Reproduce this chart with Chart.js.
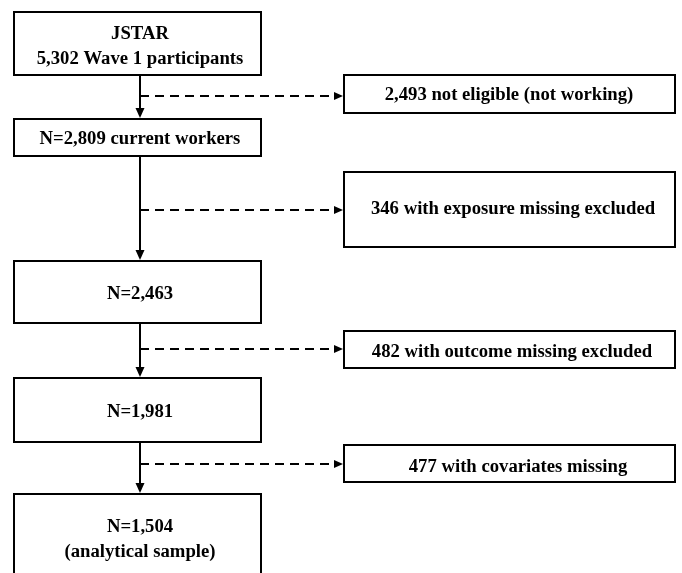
<!DOCTYPE html>
<html>
<head>
<meta charset="utf-8">
<script src="https://cdn.jsdelivr.net/npm/chart.js@4"></script>
<style>
  body { margin: 0; background: #fff; }
  #wrap { width: 682px; height: 573px; }
</style>
</head>
<body>
<div id="wrap"><canvas id="chart"></canvas></div>
<script>
// flow data
const stepNames = ['JSTAR', 'current workers', '', '', 'analytical sample'];
const stepCounts = [5302, 2809, 2463, 1981, 1504];
const excludedCounts = [2493, 346, 482, 477];
const excludedReasons = [
    'not eligible (not working)',
    'with exposure missing excluded',
    'with outcome missing excluded',
    'with covariates missing'
];

const fmt = n => n.toLocaleString('en-US');

function stepLines(i) {
    const name = stepNames[i];
    const n = fmt(stepCounts[i]);
    if (i === 0) return [name, n + ' Wave 1 participants'];
    if (i === stepCounts.length - 1) return ['N=' + n, '(' + name + ')'];
    if (name) return ['N=' + n + ' ' + name];
    return ['N=' + n];
}

// layout (axis units); text y = baseline
const mainX = [14, 261];
const arrowX = 140;
const mainRows = [[12, 75], [119, 156], [261, 323], [378, 442], [494, 600]];
const mainTextY = [[38.5, 63.5], [143.5], [299], [417], [532, 557]];
const sideX = [344, 675];
const sideRows = [[75, 113], [172, 247], [331, 368], [445, 482]];
const sideTextX = [509, 513, 512, 518];
const sideTextY = [100, 213.5, 357, 471.5];
const dashY = [96, 210, 349, 464];

const flowPlugin = {
    id: 'flow',
    afterDraw(chart) {
        const c = chart.ctx;
        const xs = chart.scales.x, ys = chart.scales.y;
        const X = v => xs.getPixelForValue(v);
        const Y = v => ys.getPixelForValue(v);
        c.save();
        c.strokeStyle = '#000';
        c.fillStyle = '#000';
        c.lineWidth = 2;
        c.font = 'bold 18.7px "Liberation Serif", "Times New Roman", serif';
        c.textAlign = 'center';
        c.textBaseline = 'alphabetic';

        const head = (x, y, dir) => {
            c.beginPath();
            if (dir === 'down') {
                c.moveTo(x - 4.5, y - 10); c.lineTo(x + 4.5, y - 10); c.lineTo(x, y);
            } else {
                c.moveTo(x - 9, y - 4); c.lineTo(x - 9, y + 4); c.lineTo(x, y);
            }
            c.closePath();
            c.fill();
        };

        // main boxes
        stepCounts.forEach((v, i) => {
            const [t, b] = mainRows[i];
            c.setLineDash([]);
            c.strokeRect(X(mainX[0]), Y(t), X(mainX[1]) - X(mainX[0]), Y(b) - Y(t));
            stepLines(i).forEach((s, k) => {
                c.fillText(s, X(arrowX), Y(mainTextY[i][k]));
            });
        });

        // vertical arrows
        for (let i = 0; i < mainRows.length - 1; i++) {
            c.setLineDash([]);
            c.beginPath();
            c.moveTo(X(arrowX), Y(mainRows[i][1]));
            c.lineTo(X(arrowX), Y(mainRows[i + 1][0]) - 8);
            c.stroke();
            head(X(arrowX), Y(mainRows[i + 1][0]) - 1, 'down');
        }

        // exclusions
        excludedCounts.forEach((v, i) => {
            const [t, b] = sideRows[i];
            c.setLineDash([]);
            c.strokeRect(X(sideX[0]), Y(t), X(sideX[1]) - X(sideX[0]), Y(b) - Y(t));
            c.fillText(fmt(v) + ' ' + excludedReasons[i], X(sideTextX[i]), Y(sideTextY[i]));
            c.setLineDash([9, 6]);
            c.beginPath();
            c.moveTo(X(arrowX), Y(dashY[i]));
            c.lineTo(X(sideX[0]) - 9, Y(dashY[i]));
            c.stroke();
            head(X(sideX[0]) - 1, Y(dashY[i]), 'right');
        });
        c.restore();
    }
};

new Chart(document.getElementById('chart'), {
    type: 'scatter',
    data: { datasets: [{ data: [], pointRadius: 0 }] },
    options: {
        responsive: true,
        maintainAspectRatio: false,
        animation: false,
        layout: { padding: 0 },
        scales: {
            x: { type: 'linear', min: 0, max: 682, display: false },
            y: { type: 'linear', min: 0, max: 573, reverse: true, display: false }
        },
        plugins: { legend: { display: false }, tooltip: { enabled: false } }
    },
    plugins: [flowPlugin]
});
</script>
</body>
</html>
